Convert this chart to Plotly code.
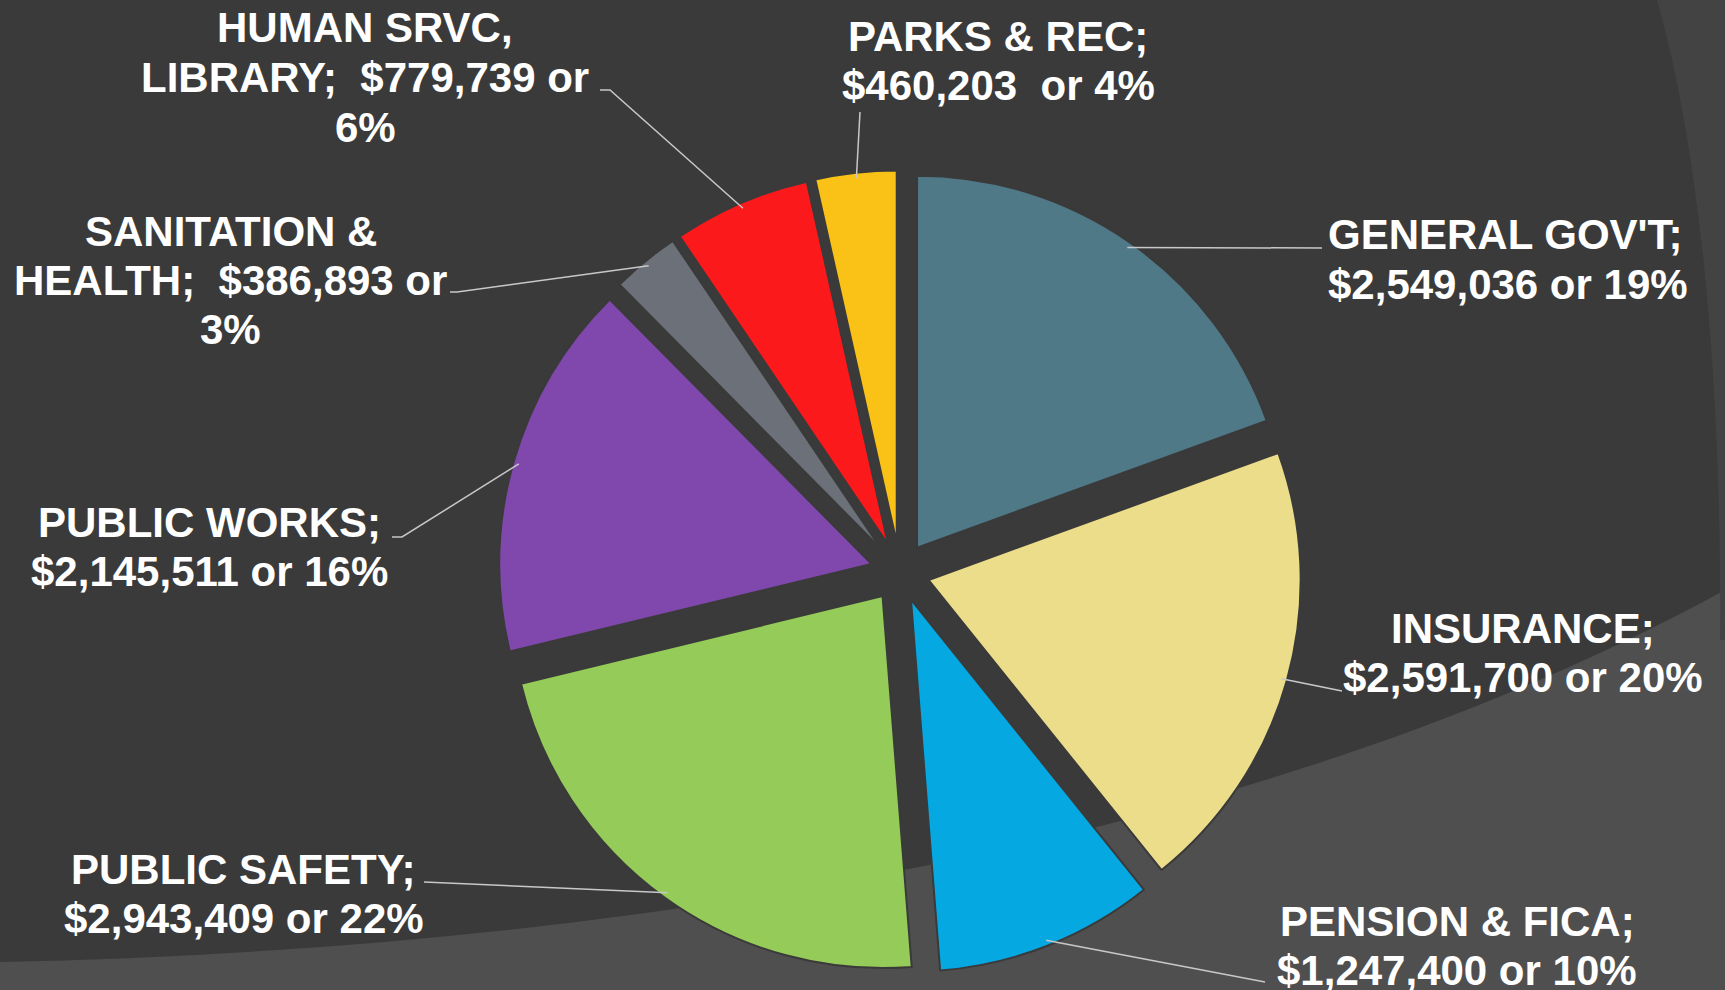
import math
import plotly.graph_objects as go

# ---------------- data ----------------
categories = ["GENERAL GOV'T", "INSURANCE", "PENSION & FICA", "PUBLIC SAFETY",
              "PUBLIC WORKS", "SANITATION & HEALTH", "HUMAN SRVC, LIBRARY", "PARKS & REC"]
values = [2549036, 2591700, 1247400, 2943409, 2145511, 386893, 779739, 460203]
label_lines = [
    ["GENERAL GOV'T;", "$2,549,036 or 19%"],
    ["INSURANCE;", "$2,591,700 or 20%"],
    ["PENSION & FICA;", "$1,247,400 or 10%"],
    ["PUBLIC SAFETY;", "$2,943,409 or 22%"],
    ["PUBLIC WORKS;", "$2,145,511 or 16%"],
    ["SANITATION &", "HEALTH;  $386,893 or", "3%"],
    ["HUMAN SRVC,", "LIBRARY;  $779,739 or", "6%"],
    ["PARKS & REC;", "$460,203  or 4%"],
]
colors = ["#507988", "#ecdd8b", "#06a8e1", "#95cb58", "#8048ac", "#6c7179", "#fc191c", "#fac216"]

# ---------------- layout constants (pixels) ----------------
W, H = 1725, 990
BG = "#3a3a3a"
PULL = 0.08
CX, CY = 900, 572          # pie centre
R = 372                    # pie radius
HALF = R * (1 + PULL)      # half size of the domain


def px(x):
    return x / W


def py(y):
    return 1 - y / H


domain_x = [px(CX - HALF), px(CX + HALF)]
domain_y = [py(CY + HALF), py(CY - HALF)]

# label block placement: (centre x, first-line centre y, align, anchor pts of leader line)
label_pos = [
    (1507, 235, "left", [(1322, 248)]),
    (1523, 628, "center", [(1342, 691)]),
    (1457, 921, "center", [(1265, 982)]),
    (244, 869, "center", [(424, 882)]),
    (209, 522, "center", [(402, 537), (392, 537)]),
    (231, 231, "center", [(457, 292), (450, 292)]),
    (365, 28, "center", [(610, 90), (600, 90)]),
    (998, 36, "center", [(860, 112)]),
]
LINE_GAP = 49.5
FONT = dict(family="Liberation Sans, Arial, sans-serif", size=42, color="white")

fig = go.Figure()
fig.add_trace(go.Pie(
    labels=categories, values=values, sort=False, direction="clockwise", rotation=0,
    pull=PULL, textinfo="none", hoverinfo="label+value+percent",
    marker=dict(colors=colors, line=dict(color=BG, width=2)),
    domain=dict(x=domain_x, y=domain_y), showlegend=False,
))

shapes = []

# background decoration
bottom = (f"M {px(0)},{py(962)} C {px(600)},{py(950)} {px(1250)},{py(850)} {px(1725)},{py(590)} "
          f"L {px(1725)},{py(990)} L {px(0)},{py(990)} Z")
shapes.append(dict(type="path", xref="paper", yref="paper", path=bottom,
                   fillcolor="#4f4f4f", line=dict(width=0), layer="below"))
right = (f"M {px(1657)},{py(0)} C {px(1700)},{py(150)} {px(1722)},{py(380)} {px(1720)},{py(640)} "
         f"L {px(1725)},{py(640)} L {px(1725)},{py(0)} Z")
shapes.append(dict(type="path", xref="paper", yref="paper", path=right,
                   fillcolor="#434343", line=dict(width=0), layer="below"))

# leader lines: start at the middle of each slice's outer edge
total = sum(values)
cum = 0
annotations = []
for i, v in enumerate(values):
    frac = v / total
    mid = (cum + frac / 2) * 2 * math.pi
    cum += frac
    dx, dy = math.sin(mid), -math.cos(mid)
    rr = R * 0.985 + PULL * R
    sx, sy = CX + dx * rr, CY + dy * rr
    pts = [(sx, sy)] + label_pos[i][3]
    d = "M " + " L ".join(f"{px(a)},{py(b)}" for a, b in pts)
    shapes.append(dict(type="path", xref="paper", yref="paper", path=d,
                       line=dict(color="#c8c8c8", width=1.5), layer="above"))
    cxl, y0, align, _ = label_pos[i]
    for k, line in enumerate(label_lines[i]):
        if align == "left":
            annotations.append(dict(x=px(1326), y=py(y0 + k * LINE_GAP), xref="paper", yref="paper",
                                    text=f"<b>{line}</b>", showarrow=False, xanchor="left",
                                    yanchor="middle", font=FONT))
        else:
            annotations.append(dict(x=px(cxl), y=py(y0 + k * LINE_GAP), xref="paper", yref="paper",
                                    text=f"<b>{line}</b>", showarrow=False, xanchor="center",
                                    yanchor="middle", font=FONT))

fig.update_layout(
    width=W, height=H, margin=dict(l=0, r=0, t=0, b=0),
    paper_bgcolor=BG, plot_bgcolor=BG,
    shapes=shapes, annotations=annotations,
)

fig.write_html(
    "out.html",
    config={"displayModeBar": False},
    post_script="document.body.style.margin='0';document.body.style.padding='0';"
                "document.body.style.background='#3a3a3a';document.body.style.overflow='hidden';",
)
